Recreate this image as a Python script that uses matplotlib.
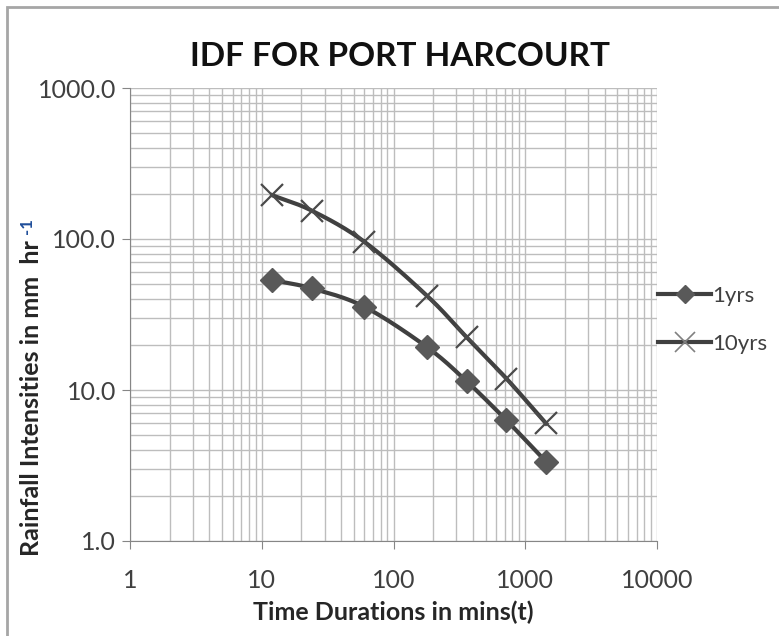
import numpy as np
import matplotlib
matplotlib.use("Agg")
import matplotlib.pyplot as plt
from matplotlib.patches import Rectangle
from matplotlib.ticker import FixedLocator, LogLocator, NullFormatter, FuncFormatter

durations = [12, 24, 60, 180, 360, 720, 1440]
int_1yr = [53.5, 47.1, 35.6, 19.2, 11.4, 6.3, 3.35]
int_10yr = [195, 154, 96, 42, 22.3, 11.9, 6.0]
series_names = ["1yrs", "10yrs"]
x_ticks = [1, 10, 100, 1000, 10000]
y_ticks = [1, 10, 100, 1000]

FONT = ["Lato", "DejaVu Sans"]
plt.rcParams['font.family'] = FONT


def smooth(x, y, n=30):
    lx, ly = np.log10(x), np.log10(y)
    P = np.column_stack([lx, ly])
    P = np.vstack([P[0] - (P[1] - P[0]), P, P[-1] + (P[-1] - P[-2])])
    out = []
    for i in range(1, len(P) - 2):
        p0, p1, p2, p3 = P[i - 1], P[i], P[i + 1], P[i + 2]
        t = np.linspace(0, 1, n)[:, None]
        c = 0.5 * ((2 * p1) + (-p0 + p2) * t + (2 * p0 - 5 * p1 + 4 * p2 - p3) * t ** 2
                   + (-p0 + 3 * p1 - 3 * p2 + p3) * t ** 3)
        out.append(c)
    c = np.vstack(out)
    return 10 ** c[:, 0], 10 ** c[:, 1]


fig = plt.figure(figsize=(7.79, 6.36), dpi=100)
fig.patches.append(Rectangle((7 / 779, -0.1), 1.2, (636 - 7) / 636 + 0.1, transform=fig.transFigure,
                             fill=False, edgecolor="#a6a6a6", lw=2))
ax = fig.add_axes([130 / 779, 1 - 541 / 636, (657 - 130) / 779, (541 - 88) / 636])
ax.set_xscale("log")
ax.set_yscale("log")
ax.set_xlim(1, 10000)
ax.set_ylim(1, 1000)

gc = "#bdbdbd"
ax.grid(True, which="major", color=gc, lw=1.0)
ax.grid(True, which="minor", color=gc, lw=1.0)
ax.xaxis.set_major_locator(FixedLocator(x_ticks))
ax.yaxis.set_major_locator(FixedLocator(y_ticks))
ax.xaxis.set_minor_locator(LogLocator(base=10, subs=np.arange(2, 10)))
ax.yaxis.set_minor_locator(LogLocator(base=10, subs=np.arange(2, 10)))
ax.xaxis.set_minor_formatter(NullFormatter())
ax.yaxis.set_minor_formatter(NullFormatter())
ax.xaxis.set_major_formatter(FuncFormatter(lambda v, p: f"{v:.0f}"))
ax.yaxis.set_major_formatter(FuncFormatter(lambda v, p: f"{v:.1f}"))
ax.tick_params(which="major", length=6, color="#868686", labelsize=18, labelcolor="#404040")
ax.tick_params(axis="x", pad=14)
ax.tick_params(axis="y", pad=4)
ax.tick_params(which="minor", length=0)
for s in ["top", "right"]:
    ax.spines[s].set_visible(False)
for s in ["left", "bottom"]:
    ax.spines[s].set_color("#868686")
ax.set_axisbelow(True)

lc = "#404040"
sx, sy = smooth(durations, int_1yr)
ax.plot(sx, sy, color=lc, lw=3, zorder=3)
ax.plot(durations, int_1yr, ls="none", marker="D", ms=12, color="#595959", zorder=4)
sx, sy = smooth(durations, int_10yr)
ax.plot(sx, sy, color=lc, lw=3, zorder=3)
ax.plot(durations, int_10yr, ls="none", marker="x", ms=16, mew=1.6, color="#4a4a4a", zorder=4)

h1, = ax.plot([], [], color=lc, lw=3, marker="D", ms=9, mfc="#595959", mec="#595959")
h2, = ax.plot([], [], color=lc, lw=3, marker="x", ms=15, mew=1.2, mec="#808080")
leg = fig.legend([h1, h2], series_names, loc="center left", bbox_to_anchor=(647 / 779, 1 - 320 / 636),
                 frameon=False, fontsize=16, handlelength=2.4, labelspacing=1.25, handletextpad=0.05,
                 borderpad=0)
for t in leg.get_texts():
    t.set_color("#404040")

fig.text(400 / 779, 1 - 57 / 636, "IDF FOR PORT HARCOURT", ha="center", va="center", fontsize=24,
         fontweight="bold", color="#111111")
ax.set_xlabel("Time Durations in mins(t)", fontsize=18, fontweight="bold", color="#262626", labelpad=6)
fig.text(32 / 779, 1 - 398 / 636, "Rainfall Intensities in mm  hr", rotation=90, ha="center", va="center",
         fontsize=18, fontweight="bold", color="#262626")
fig.text(27 / 779, 1 - 226 / 636, "-1", rotation=90, ha="center", va="center",
         fontsize=12, fontweight="bold", color="#1f4e9a")

fig.savefig("out.png", dpi=100)
